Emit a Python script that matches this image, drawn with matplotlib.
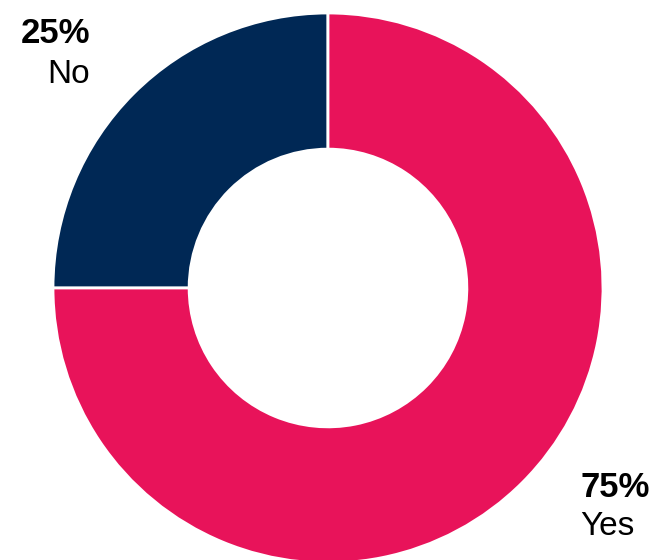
import matplotlib
matplotlib.use("Agg")
import matplotlib.pyplot as plt

categories = ["No", "Yes"]
values = [25, 75]
colors = ["#002855", "#E8135A"]

W, H = 650, 560
fig = plt.figure(figsize=(W / 100, H / 100), dpi=100)
cx, cy, R = 328, 272, 275  # pixel center (from bottom) and radius
ax = fig.add_axes([0, 0, 1, 1])

ax.pie(values, colors=colors, startangle=90, counterclock=True, radius=1,
       wedgeprops=dict(width=0.495, edgecolor="white", linewidth=2))
ax.set_xlim(-cx / R, (W - cx) / R)
ax.set_ylim(-cy / R, (H - cy) / R)
ax.set_aspect("equal")
ax.axis("off")

# label positions in pixels from top: (x, baseline_pct, baseline_cat, ha)
label_pos = {"No": (90, 43, 83, "right"), "Yes": (580, 497, 535, "left")}
for cat, v in zip(categories, values):
    x, y1, y2, ha = label_pos[cat]
    fig.text(x / W, 1 - y1 / H, f"{v}%", ha=ha, va="baseline", fontsize=25,
             fontweight="heavy", family=["Liberation Sans", "DejaVu Sans"], color="black")
    fig.text(x / W, 1 - y2 / H, cat, ha=ha, va="baseline", fontsize=24,
             family=["Liberation Sans", "DejaVu Sans"], color="black")

fig.savefig("out.png", dpi=100)
